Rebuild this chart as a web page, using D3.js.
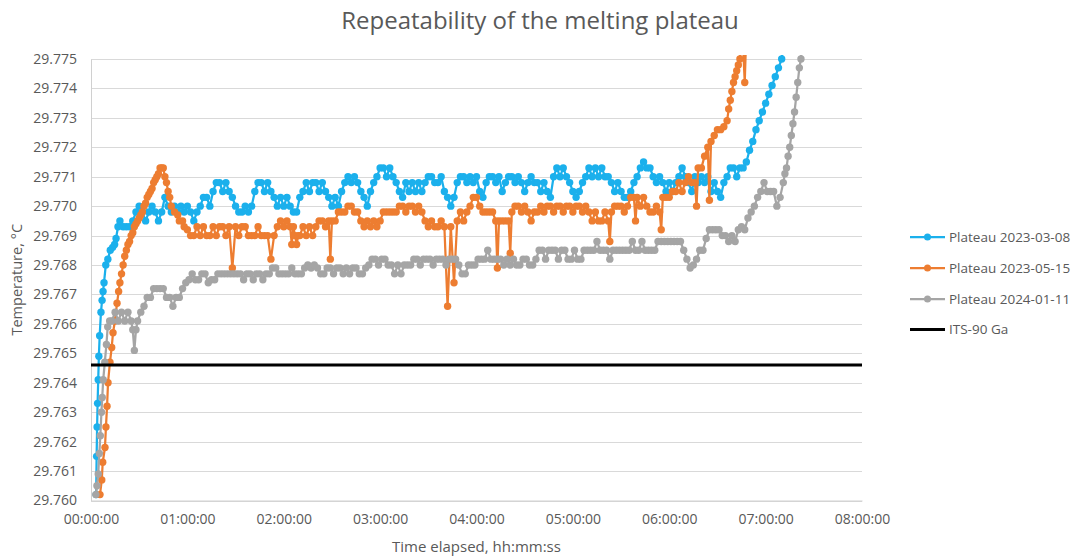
<!DOCTYPE html>
<html>
<head>
<meta charset="utf-8">
<script src="https://cdn.jsdelivr.net/npm/d3@7"></script>
<style>
  body { margin: 0; background: #fff; }
  svg { display: block; }
  text { font-family: "Open Sans", sans-serif; fill: #595959; }
</style>
</head>
<body>
<svg id="chart" width="1075" height="556"></svg>
<script>
// Axis ticks
const hourTicks = [0, 1, 2, 3, 4, 5, 6, 7, 8];
const tempTicks = [29.760, 29.761, 29.762, 29.763, 29.764, 29.765, 29.766, 29.767,
                   29.768, 29.769, 29.770, 29.771, 29.772, 29.773, 29.774, 29.775];

// Reference value of the gallium melting point on ITS-90, °C
const itsGa = 29.7646;

// Plateau recordings: [elapsed minutes, temperature °C]
const plateau20230308 = [
[3.2,29.7602],[3.5,29.7615],[3.8,29.7625],[4.1,29.7633],[4.5,29.7641],[4.9,29.7649],[5.4,29.7656],[6.2,29.7664],[6.9,29.7668],[7.5,29.7671],[8.1,29.7674],[9.2,29.7680],[10.5,29.7682],[12,29.7685],[13.5,29.7686],[14.7,29.7687],[15.6,29.7689],[16.8,29.7693],[18,29.7695],[20,29.7693],[22,29.7693],[24,29.7693],[26,29.7695],[28,29.7698],[30,29.7700],[32,29.7698],[34,29.7695],[36,29.7698],[38,29.7700],[40,29.7698],[42,29.7695],[44,29.7698],[46,29.7703],[48,29.7700],[50,29.7698],[52,29.7700],[54,29.7698],[56,29.7700],[58,29.7698],[60,29.7700],[62,29.7698],[64,29.7695],[66,29.7698],[68,29.7700],[70,29.7703],[72,29.7703],[74,29.7700],[76,29.7705],[78,29.7708],[80,29.7708],[82,29.7705],[84,29.7708],[86,29.7705],[88,29.7703],[90,29.7700],[92,29.7698],[94,29.7698],[96,29.7700],[98,29.7698],[100,29.7700],[102,29.7705],[104,29.7708],[106,29.7708],[108,29.7705],[110,29.7708],[112,29.7705],[114,29.7703],[116,29.7700],[118,29.7703],[120,29.7700],[122,29.7703],[124,29.7700],[126,29.7698],[128,29.7698],[130,29.7703],[132,29.7705],[134,29.7708],[136,29.7705],[138,29.7708],[140,29.7708],[142,29.7705],[144,29.7708],[146,29.7705],[148,29.7703],[150,29.7700],[152,29.7703],[154,29.7700],[156,29.7705],[158,29.7708],[160,29.7710],[162,29.7708],[164,29.7710],[166,29.7708],[168,29.7705],[170,29.7703],[172,29.7700],[174,29.7705],[176,29.7708],[178,29.7710],[180,29.7713],[182,29.7713],[184,29.7710],[186,29.7713],[188,29.7710],[190,29.7708],[192,29.7705],[194,29.7703],[196,29.7708],[198,29.7705],[200,29.7708],[202,29.7705],[204,29.7708],[206,29.7705],[208,29.7708],[210,29.7710],[212,29.7710],[214,29.7708],[216,29.7708],[218,29.7710],[220,29.7705],[222,29.7703],[224,29.7700],[226,29.7703],[228,29.7708],[230,29.7710],[232,29.7710],[234,29.7708],[236,29.7710],[238,29.7708],[240,29.7710],[242,29.7705],[244,29.7703],[246,29.7708],[248,29.7710],[250,29.7710],[252,29.7708],[254,29.7710],[256,29.7705],[258,29.7708],[260,29.7710],[262,29.7710],[264,29.7708],[266,29.7710],[268,29.7708],[270,29.7705],[272,29.7708],[274,29.7710],[276,29.7708],[278,29.7708],[280,29.7705],[282,29.7708],[284,29.7705],[286,29.7703],[288,29.7710],[290,29.7713],[292,29.7710],[294,29.7713],[296,29.7710],[298,29.7708],[300,29.7705],[302,29.7703],[304,29.7705],[306,29.7708],[308,29.7710],[310,29.7713],[312,29.7710],[314,29.7713],[316,29.7710],[318,29.7713],[320,29.7710],[322,29.7710],[324,29.7708],[326,29.7705],[328,29.7708],[330,29.7705],[332,29.7703],[334,29.7703],[336,29.7705],[338,29.7708],[340,29.7710],[342,29.7713],[344,29.7715],[346,29.7713],[348,29.7713],[350,29.7710],[352,29.7708],[354,29.7710],[356,29.7708],[358,29.7705],[360,29.7708],[362,29.7705],[364,29.7708],[366,29.7710],[368,29.7713],[370,29.7710],[372,29.7708],[374,29.7705],[376,29.7710],[378,29.7708],[380,29.7710],[382,29.7708],[384,29.7710],[386,29.7705],[388,29.7708],[390,29.7705],[392,29.7703],[394,29.7708],[396,29.7710],[398,29.7713],[400,29.7713],[402,29.7710],[404,29.7713],[406,29.7713],[408,29.7715],[410,29.7719],[412,29.7722],[414,29.7726],[416,29.7729],[418,29.7732],[420,29.7735],[422,29.7738],[424,29.7741],[426,29.7744],[428,29.7747],[430,29.7750],[432,29.7760]
];

const plateau20230515 = [
[5.6,29.7602],[6.7,29.7607],[7.3,29.7613],[8.7,29.7618],[9.3,29.7625],[10,29.7632],[10.6,29.7640],[11.8,29.7647],[12.9,29.7652],[13.7,29.7657],[14.9,29.7661],[16.2,29.7667],[17.2,29.7671],[18,29.7674],[19,29.7677],[20,29.7680],[21,29.7683],[22,29.7685],[23,29.7687],[24,29.7688],[25,29.7690],[26,29.7691],[27,29.7693],[28,29.7694],[29,29.7695],[30,29.7696],[31,29.7697],[32,29.7698],[33,29.7700],[34,29.7701],[35,29.7703],[36,29.7704],[37,29.7705],[38,29.7706],[39,29.7708],[40,29.7709],[41,29.7710],[42,29.7711],[43,29.7713],[44,29.7713],[45,29.7713],[46,29.7710],[47,29.7708],[48,29.7705],[49,29.7703],[50,29.7700],[52,29.7698],[54,29.7697],[55,29.7695],[57,29.7695],[58,29.7693],[60,29.7692],[62,29.7690],[64,29.7690],[66,29.7693],[68,29.7690],[70,29.7693],[72,29.7690],[74,29.7690],[76,29.7693],[78,29.7690],[80,29.7693],[82,29.7693],[84,29.7690],[86,29.7693],[88,29.7679],[90,29.7693],[92,29.7690],[94,29.7693],[96,29.7693],[98,29.7690],[100,29.7690],[102,29.7690],[104,29.7693],[106,29.7690],[108,29.7690],[110,29.7690],[112,29.7682],[114,29.7690],[116,29.7693],[118,29.7695],[120,29.7693],[122,29.7695],[124,29.7693],[125,29.7687],[126,29.7693],[127,29.7690],[128,29.7687],[129,29.7690],[130,29.7690],[132,29.7693],[134,29.7690],[136,29.7693],[138,29.7690],[140,29.7693],[142,29.7695],[144,29.7695],[146,29.7693],[148,29.7695],[149,29.7682],[150,29.7695],[152,29.7695],[154,29.7698],[156,29.7698],[158,29.7698],[160,29.7700],[162,29.7700],[164,29.7698],[166,29.7698],[168,29.7695],[170,29.7693],[172,29.7695],[174,29.7693],[176,29.7695],[178,29.7693],[180,29.7695],[182,29.7698],[184,29.7698],[186,29.7698],[188,29.7698],[190,29.7698],[192,29.7700],[194,29.7700],[196,29.7698],[198,29.7700],[200,29.7700],[202,29.7698],[204,29.7700],[206,29.7698],[208,29.7695],[210,29.7693],[212,29.7695],[214,29.7693],[216,29.7693],[218,29.7695],[220,29.7693],[222,29.7666],[224,29.7693],[226,29.7674],[228,29.7695],[230,29.7698],[232,29.7695],[234,29.7698],[236,29.7700],[238,29.7703],[240,29.7703],[242,29.7700],[244,29.7698],[246,29.7698],[248,29.7698],[250,29.7698],[252,29.7695],[253,29.7679],[254,29.7695],[256,29.7695],[258,29.7695],[260,29.7695],[261,29.7684],[262,29.7698],[264,29.7700],[266,29.7700],[268,29.7698],[270,29.7700],[272,29.7698],[274,29.7695],[276,29.7698],[278,29.7698],[280,29.7700],[282,29.7698],[284,29.7700],[286,29.7700],[288,29.7698],[290,29.7700],[292,29.7700],[294,29.7698],[296,29.7700],[298,29.7700],[300,29.7698],[302,29.7700],[304,29.7700],[306,29.7698],[308,29.7700],[310,29.7698],[312,29.7695],[314,29.7698],[316,29.7695],[318,29.7695],[320,29.7698],[322,29.7695],[323,29.7688],[324,29.7698],[326,29.7700],[328,29.7700],[330,29.7700],[332,29.7698],[334,29.7700],[336,29.7703],[338,29.7703],[339,29.7695],[340,29.7703],[342,29.7700],[344,29.7703],[346,29.7700],[348,29.7698],[350,29.7698],[352,29.7700],[354,29.7698],[355,29.7692],[356,29.7703],[358,29.7703],[360,29.7703],[362,29.7705],[364,29.7705],[366,29.7708],[368,29.7705],[370,29.7708],[372,29.7710],[374,29.7708],[376,29.7708],[377,29.7700],[378,29.7713],[380,29.7713],[382,29.7717],[384,29.7720],[385,29.7702],[386,29.7722],[388,29.7724],[390,29.7726],[392,29.7726],[394,29.7727],[396,29.7729],[397,29.7733],[398,29.7736],[399,29.7739],[400,29.7742],[401,29.7744],[402,29.7746],[403,29.7748],[404,29.7750],[405.5,29.7760],[407,29.7742],[408,29.7760]
];

const plateau20240111 = [
[3,29.7602],[3.7,29.7605],[4.5,29.7609],[5.2,29.7616],[5.8,29.7622],[6.5,29.7630],[7,29.7635],[7.6,29.7641],[8.6,29.7647],[9.6,29.7653],[10.4,29.7659],[11.6,29.7661],[13,29.7661],[15,29.7664],[17,29.7661],[19,29.7664],[21,29.7661],[23,29.7664],[25,29.7661],[26,29.7658],[27,29.7651],[28,29.7658],[29,29.7661],[31,29.7664],[33,29.7666],[35,29.7669],[37,29.7669],[39,29.7672],[41,29.7672],[43,29.7672],[45,29.7672],[47,29.7669],[49,29.7669],[51,29.7666],[53,29.7669],[55,29.7669],[57,29.7672],[59,29.7674],[61,29.7675],[63,29.7677],[65,29.7675],[67,29.7675],[69,29.7677],[71,29.7677],[73,29.7674],[75,29.7675],[77,29.7675],[79,29.7677],[81,29.7677],[83,29.7677],[85,29.7677],[87,29.7677],[89,29.7677],[91,29.7677],[93,29.7677],[95,29.7675],[97,29.7677],[99,29.7677],[101,29.7675],[103,29.7677],[105,29.7677],[107,29.7675],[109,29.7677],[111,29.7677],[113,29.7679],[115,29.7679],[117,29.7677],[119,29.7677],[121,29.7677],[123,29.7677],[125,29.7679],[127,29.7677],[129,29.7677],[131,29.7677],[133,29.7679],[135,29.7680],[137,29.7679],[139,29.7680],[141,29.7679],[143,29.7677],[145,29.7677],[147,29.7679],[149,29.7679],[151,29.7677],[153,29.7679],[155,29.7679],[157,29.7677],[159,29.7679],[161,29.7677],[163,29.7679],[165,29.7679],[167,29.7677],[169,29.7677],[171,29.7679],[173,29.7680],[175,29.7682],[177,29.7682],[179,29.7680],[181,29.7682],[183,29.7682],[185,29.7680],[187,29.7680],[189,29.7677],[191,29.7680],[193,29.7677],[195,29.7680],[197,29.7680],[199,29.7680],[201,29.7682],[203,29.7682],[205,29.7680],[207,29.7682],[209,29.7682],[211,29.7682],[213,29.7680],[215,29.7682],[217,29.7682],[219,29.7682],[221,29.7680],[223,29.7682],[225,29.7682],[227,29.7682],[229,29.7680],[231,29.7677],[233,29.7677],[235,29.7680],[237,29.7680],[239,29.7680],[241,29.7682],[243,29.7682],[245,29.7682],[247,29.7685],[249,29.7682],[251,29.7682],[253,29.7682],[255,29.7682],[257,29.7680],[259,29.7682],[261,29.7680],[263,29.7682],[265,29.7680],[267,29.7680],[269,29.7682],[271,29.7682],[273,29.7680],[275,29.7680],[277,29.7682],[279,29.7685],[281,29.7685],[283,29.7682],[285,29.7685],[287,29.7685],[289,29.7685],[291,29.7682],[293,29.7685],[295,29.7685],[297,29.7682],[299,29.7682],[301,29.7685],[303,29.7682],[305,29.7682],[307,29.7685],[309,29.7685],[311,29.7685],[313,29.7685],[315,29.7688],[317,29.7685],[319,29.7685],[321,29.7685],[323,29.7682],[325,29.7685],[327,29.7685],[329,29.7685],[331,29.7685],[333,29.7685],[335,29.7685],[337,29.7688],[339,29.7685],[341,29.7685],[343,29.7688],[345,29.7685],[347,29.7685],[349,29.7685],[351,29.7685],[353,29.7688],[355,29.7688],[357,29.7688],[359,29.7688],[361,29.7688],[363,29.7688],[365,29.7688],[367,29.7688],[369,29.7685],[371,29.7682],[373,29.7679],[375,29.7680],[377,29.7682],[379,29.7685],[381,29.7685],[383,29.7689],[385,29.7692],[387,29.7692],[389,29.7692],[391,29.7692],[393,29.7690],[395,29.7690],[397,29.7688],[399,29.7690],[401,29.7688],[403,29.7692],[405,29.7693],[407,29.7692],[409,29.7696],[411,29.7698],[413,29.7700],[415,29.7703],[417,29.7705],[419,29.7708],[421,29.7705],[423,29.7705],[425,29.7705],[427,29.7700],[429,29.7703],[431,29.7708],[432,29.7711],[433,29.7713],[434,29.7717],[435,29.7720],[436,29.7724],[437,29.7728],[438,29.7732],[439,29.7737],[440,29.7742],[441,29.7747],[442,29.7750],[443,29.7760]
];

const seriesNames = ["Plateau 2023-03-08", "Plateau 2023-05-15", "Plateau 2024-01-11"];
const seriesColors = ["#1bb0ec", "#ed7d31", "#a5a5a5"];
const seriesData = [plateau20230308, plateau20230515, plateau20240111];
const itsLabel = "ITS-90 Ga";

const svg = d3.select("#chart");
const plot = { left: 91, right: 862, top: 59, bottom: 500.5 };

const x = d3.scaleLinear().domain([0, 480]).range([plot.left, plot.right]);
const y = d3.scaleLinear().domain([29.760, 29.775]).range([plot.bottom, plot.top]);

const pad2 = n => String(n).padStart(2, "0");

// Horizontal gridlines
svg.append("g")
  .selectAll("line")
  .data(tempTicks)
  .join("line")
  .attr("x1", plot.left).attr("x2", plot.right)
  .attr("y1", d => Math.round(y(d)) + 0.5).attr("y2", d => Math.round(y(d)) + 0.5)
  .attr("stroke", "#d9d9d9").attr("stroke-width", 1);

// Y axis
const yAxis = svg.append("g")
  .attr("transform", `translate(${plot.left},0)`)
  .call(d3.axisLeft(y).tickValues(tempTicks).tickFormat(d3.format(".3f")).tickSize(0).tickPadding(14));
yAxis.select(".domain").attr("stroke", "#d0d0d0");
yAxis.selectAll("text").style("font-size", "14px").style("fill", "#595959").style("font-family", '"Open Sans", sans-serif');

// X axis
const xAxis = svg.append("g")
  .attr("transform", `translate(0,${plot.bottom})`)
  .call(d3.axisBottom(x).tickValues(hourTicks.map(h => h * 60))
    .tickFormat(m => `${pad2(Math.floor(m / 60))}:${pad2(m % 60)}:00`)
    .tickSize(0).tickPadding(14));
xAxis.select(".domain").attr("stroke", "#d0d0d0");
xAxis.selectAll("text").style("font-size", "14px").style("fill", "#595959").style("font-family", '"Open Sans", sans-serif');

// Clip the traces to the plotting area
svg.append("defs").append("clipPath").attr("id", "plotClip")
  .append("rect").attr("x", plot.left - 6).attr("y", plot.top - 4)
  .attr("width", plot.right - plot.left + 12).attr("height", plot.bottom - plot.top + 10);

const traces = svg.append("g").attr("clip-path", "url(#plotClip)");
const line = d3.line().x(d => x(d[0])).y(d => y(d[1]));

seriesData.forEach((data, i) => {
  const g = traces.append("g");
  g.append("path").datum(data)
    .attr("d", line).attr("fill", "none")
    .attr("stroke", seriesColors[i]).attr("stroke-width", 2.25)
    .attr("stroke-linejoin", "round");
  g.selectAll("circle").data(data).join("circle")
    .attr("cx", d => x(d[0])).attr("cy", d => y(d[1]))
    .attr("r", 3.7).attr("fill", seriesColors[i]);
});

// ITS-90 reference line
traces.append("line")
  .attr("x1", x(0)).attr("x2", x(480))
  .attr("y1", y(itsGa)).attr("y2", y(itsGa))
  .attr("stroke", "#000").attr("stroke-width", 3);

// Title
svg.append("text")
  .attr("x", 540).attr("y", 29)
  .attr("text-anchor", "middle")
  .style("font-size", "24px")
  .text("Repeatability of the melting plateau");

// Axis titles
svg.append("text")
  .attr("transform", `translate(22,${(plot.top + plot.bottom) / 2}) rotate(-90)`)
  .attr("text-anchor", "middle")
  .style("font-size", "14.5px")
  .text("Temperature, °C");

svg.append("text")
  .attr("x", (plot.left + plot.right) / 2).attr("y", 552)
  .attr("text-anchor", "middle")
  .style("font-size", "15px")
  .text("Time elapsed, hh:mm:ss");

// Legend
const legendItems = seriesNames.map((n, i) => ({ name: n, color: seriesColors[i], marker: true }))
  .concat([{ name: itsLabel, color: "#000", marker: false }]);
const legendY = [237, 268, 299, 329.5];
const legend = svg.append("g");
legendItems.forEach((item, i) => {
  const ly = legendY[i];
  legend.append("line")
    .attr("x1", 910).attr("x2", 945).attr("y1", ly).attr("y2", ly)
    .attr("stroke", item.color).attr("stroke-width", item.marker ? 2.25 : 3);
  if (item.marker) {
    legend.append("circle").attr("cx", 927.5).attr("cy", ly).attr("r", 3.5).attr("fill", item.color);
  }
  legend.append("text")
    .attr("x", 949).attr("y", ly).attr("dy", "0.35em")
    .style("font-size", "13.5px")
    .text(item.name);
});
</script>
</body>
</html>
